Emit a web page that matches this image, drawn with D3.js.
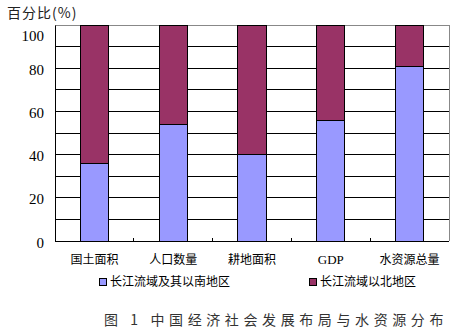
<!DOCTYPE html>
<html><head><meta charset="utf-8">
<script src="https://cdn.jsdelivr.net/npm/d3@7"></script>
<style>body{margin:0;background:#fff}svg{display:block}</style>
</head><body>
<svg id="c" width="454" height="336"></svg>
<script>
const categories = ["国土面积","人口数量","耕地面积","GDP","水资源总量"];
const southValues = [36, 54, 40, 56, 81];
const northValues = [64, 46, 60, 44, 19];
const seriesNames = ["长江流域及其以南地区","长江流域以北地区"];
const yTicks = [0,20,40,60,80,100];
const colors = ["#9999FF","#993366"];

const svg = d3.select("#c");
const m = {l:55, r:449, t:25, b:241};
const x = d3.scaleBand().domain(categories).range([m.l, m.r]).paddingInner(0.64).paddingOuter(0.32);
const y = d3.scaleLinear().domain([0,100]).range([m.b, m.t]);
const cjk = "'Noto Sans CJK SC', sans-serif";
const serif = "'Liberation Serif', 'DejaVu Serif', serif";

// grid lines
svg.append("g").selectAll("line").data(d3.range(10, 101, 10)).join("line")
  .attr("x1", m.l).attr("x2", m.r).attr("y1", d=>y(d)).attr("y2", d=>y(d))
  .attr("stroke", d=>d===100?"#888":"#000").attr("stroke-width",1).attr("shape-rendering","crispEdges");
// right border
svg.append("line").attr("x1",m.r).attr("x2",m.r).attr("y1",m.t).attr("y2",m.b).attr("stroke","#888").attr("shape-rendering","crispEdges");

// bars
const data = categories.map((c,i)=>({c, s:southValues[i], n:northValues[i]}));
const bars = svg.append("g");
bars.selectAll("rect.s").data(data).join("rect")
  .attr("x", d=>x(d.c)).attr("width", x.bandwidth())
  .attr("y", d=>y(d.s)).attr("height", d=>y(0)-y(d.s))
  .attr("fill", colors[0]).attr("stroke","#000").attr("stroke-width",1).attr("shape-rendering","crispEdges");
bars.selectAll("rect.n").data(data).join("rect")
  .attr("x", d=>x(d.c)).attr("width", x.bandwidth())
  .attr("y", d=>y(d.s+d.n)).attr("height", d=>y(d.s)-y(d.s+d.n))
  .attr("fill", colors[1]).attr("stroke","#000").attr("stroke-width",1).attr("shape-rendering","crispEdges");

// axes
const yAxis = d3.axisLeft(y).tickValues(yTicks).tickSize(0).tickPadding(11);
const gy = svg.append("g").attr("transform",`translate(${m.l},0)`).call(yAxis);
gy.select(".domain").attr("stroke","#000");
gy.selectAll("text").attr("font-family",serif).attr("font-size",15).attr("fill","#000")
  .attr("dy", d=>d===100?"1.05em":"0.4em");

// x axis line with inner ticks at category boundaries
svg.append("line").attr("x1",m.l).attr("x2",m.r).attr("y1",m.b).attr("y2",m.b).attr("stroke","#000").attr("shape-rendering","crispEdges");
const step = x.step();
svg.append("g").selectAll("line").data(categories.slice(1)).join("line")
  .attr("x1", d=>x(d)-(step-x.bandwidth())/2).attr("x2", d=>x(d)-(step-x.bandwidth())/2)
  .attr("y1", m.b).attr("y2", m.b-3).attr("stroke","#000").attr("shape-rendering","crispEdges");

// category labels
svg.append("g").selectAll("text").data(categories).join("text")
  .attr("x", d=>x(d)+x.bandwidth()/2).attr("y", 264).attr("text-anchor","middle")
  .attr("font-family", d=>d==="GDP"?serif:cjk).attr("font-size", d=>d==="GDP"?13:12).attr("fill","#000").text(d=>d);

// y title
svg.append("text").attr("x",7).attr("y",18).attr("font-family",cjk).attr("font-size",14).attr("letter-spacing","1px").attr("fill","#222").text("百分比(%)");

// legend
const lx = [99, 309];
const lg = svg.append("g").selectAll("g").data(seriesNames).join("g").attr("transform",(d,i)=>`translate(${lx[i]},278)`);
lg.append("rect").attr("width",7).attr("height",7).attr("fill",(d,i)=>colors[i]).attr("stroke","#000").attr("shape-rendering","crispEdges");
lg.append("text").attr("x",11).attr("y",7.5).attr("font-family",cjk).attr("font-size",12).attr("fill","#000").text(d=>d);

// caption
svg.append("text").attr("x",104).attr("y",325).attr("font-family",cjk).attr("font-size",14).attr("letter-spacing","4.6px").attr("fill","#333")
  .text("图 1  中国经济社会发展布局与水资源分布");
</script>
</body></html>
